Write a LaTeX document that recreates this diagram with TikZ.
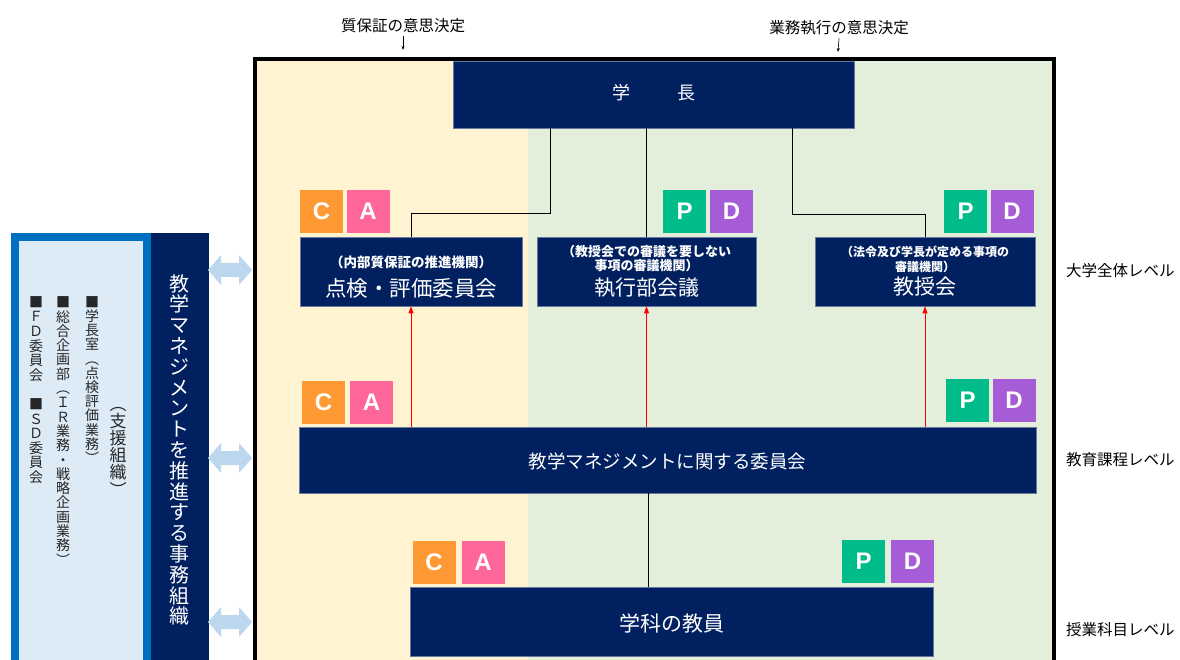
\documentclass[tikz,border=0pt]{standalone}
\usepackage{fontspec}
\setmainfont{Noto Sans CJK JP}
\newfontfamily\latinfont{Liberation Sans}
\usetikzlibrary{arrows.meta}
\definecolor{navy}{HTML}{002060}
\definecolor{corange}{HTML}{FF9933}
\definecolor{apink}{HTML}{FF6699}
\definecolor{pgreen}{HTML}{00BC8A}
\definecolor{dpurple}{HTML}{A65CD6}
\definecolor{bgyellow}{HTML}{FFF3D1}
\definecolor{bggreen}{HTML}{E3EFDB}
\definecolor{sideblue}{HTML}{0070C0}
\definecolor{sidelight}{HTML}{DDEBF7}
\definecolor{arrowblue}{HTML}{BDD7EE}
\newcommand\fsz[2]{\fontsize{#1}{#2}\selectfont}
\begin{document}
\begin{tikzpicture}[x=1pt,y=-1pt,
  navybox/.style={fill=navy, draw=navy!60!white, line width=0.6pt, inner sep=0pt},
  badge/.style={minimum width=43pt, minimum height=43pt, inner sep=0pt, text=white,
    font={\latinfont\bfseries\fsz{24}{24}}},
  whitetxt/.style={text=white, inner sep=0pt},
  blacktxt/.style={text=black, inner sep=0pt},
  vtxt/.style={inner sep=0pt, align=center},
  conn/.style={black, line width=0.8pt},
  redarrow/.style={red, line width=0.9pt, -{Triangle[length=7pt,width=5pt]}},
  downarrow/.style={black, line width=0.6pt, -{Stealth[length=4pt,width=3pt]}},
  dbl/.pic={\fill[arrowblue] (-22,0) -- (-9,-15) -- (-9,-7) -- (9,-7) -- (9,-15) -- (22,0)
     -- (9,15) -- (9,7) -- (-9,7) -- (-9,15) -- cycle;}
]
\useasboundingbox (0,0) rectangle (1180,660);
\fill[white] (0,0) rectangle (1180,660);

% background regions
\fill[bgyellow] (257,61) rectangle (528,660);
\fill[bggreen] (528,61) rectangle (1052,660);
\draw[black, line width=4pt] (255,670) -- (255,59) -- (1054,59) -- (1054,670);

% top labels
\node[blacktxt, font=\fsz{15.5}{15.5}] (lq) at (403,26) {質保証の意思決定};
\node[blacktxt, font=\fsz{15.5}{15.5}] (lb) at (839,28) {業務執行の意思決定};
\coordinate (lqa) at (403,50);
\coordinate (lba) at (838,52);
\draw[downarrow] (lq.south) ++(0,3) -- (lqa);
\draw[downarrow] (lb.south) ++(0,3) -- (lba);

% boxes
\node[navybox, minimum width=401pt, minimum height=67pt] (gakucho) at (653.5,94.5) {};
\node[whitetxt, font=\fsz{18}{18}] (tgakucho) at (653.5,93) {学\hspace{47pt}長};

\node[navybox, minimum width=222pt, minimum height=69pt] (tenken) at (411,271.5) {};
\node[whitetxt, font=\bfseries\fsz{13.5}{13.5}] (tenkens) at (411,262) {（内部質保証の推進機関）};
\node[whitetxt, font=\fsz{21.5}{21.5}] (tenkenm) at (411,288) {点検・評価委員会};

\node[navybox, minimum width=219pt, minimum height=69pt] (shikko) at (646.5,271.5) {};
\node[whitetxt, font=\bfseries\fsz{13}{14}, align=center] (shikkos) at (646.5,259) {（教授会での審議を要しない\\事項の審議機関）};
\node[whitetxt, font=\fsz{21}{21}] (shikkom) at (646.5,288) {執行部会議};

\node[navybox, minimum width=220pt, minimum height=69pt] (kyoju) at (925,271.5) {};
\node[whitetxt, font=\bfseries\fsz{12}{14.5}, align=center] (kyojus) at (925,259.5) {（法令及び学長が定める事項の\\審議機関）};
\node[whitetxt, font=\fsz{21}{21}] (kyojum) at (925,287) {教授会};

\node[navybox, minimum width=737pt, minimum height=66pt] (iinkai) at (667.5,460) {};
\node[whitetxt, font=\fsz{18.5}{18.5}] (iinkait) at (667.5,461) {教学マネジメントに関する委員会};

\node[navybox, minimum width=523pt, minimum height=69pt] (kyoin) at (671.5,621.5) {};
\node[whitetxt, font=\fsz{21}{21}] (kyoint) at (672,623) {学科の教員};

% badges
\node[badge, fill=corange] (c1) at (321.5,211.5) {C};
\node[badge, fill=apink] (a1) at (368,211.5) {A};
\node[badge, fill=pgreen] (p1) at (684.5,211.5) {P};
\node[badge, fill=dpurple] (d1) at (731.5,211.5) {D};
\node[badge, fill=pgreen] (p2) at (965.5,211.5) {P};
\node[badge, fill=dpurple] (d2) at (1012,211.5) {D};

\node[badge, fill=corange] (c2) at (323.5,402.5) {C};
\node[badge, fill=apink] (a2) at (371.5,402.5) {A};
\node[badge, fill=pgreen] (p3) at (967.5,400) {P};
\node[badge, fill=dpurple] (d3) at (1014,400) {D};

\node[badge, fill=corange] (c3) at (434,562.5) {C};
\node[badge, fill=apink] (a3) at (483,562.5) {A};
\node[badge, fill=pgreen] (p4) at (863.5,561.5) {P};
\node[badge, fill=dpurple] (d4) at (912.5,561.5) {D};

% connectors from president
\coordinate (g1) at (550,128);
\coordinate (g1b) at (550,213);
\coordinate (g2) at (646.5,128);
\coordinate (g3) at (792,128);
\coordinate (g3b) at (792,214);
\draw[conn] (g1) -- (g1b) -| (tenken.north);
\draw[conn] (g2) -- (shikko.north);
\draw[conn] (g3) -- (g3b) -| (kyoju.north);

% red arrows
\draw[redarrow] (tenken.south |- iinkai.north) -- (tenken.south);
\draw[redarrow] (shikko.south |- iinkai.north) -- (shikko.south);
\draw[redarrow] (kyoju.south |- iinkai.north) -- (kyoju.south);

% line to faculty
\coordinate (k1) at (648,493);
\draw[conn] (k1) -- (k1 |- kyoin.north);

% right labels
\node[blacktxt, anchor=west, font=\fsz{15.5}{15.5}] (lv1) at (1066,271) {大学全体レベル};
\node[blacktxt, anchor=west, font=\fsz{15.5}{15.5}] (lv2) at (1066,460) {教育課程レベル};
\node[blacktxt, anchor=west, font=\fsz{15.5}{15.5}] (lv3) at (1066,630) {授業科目レベル};

% left support panel
\fill[sideblue] (11,233) rectangle (151,660);
\fill[sidelight] (19,241) rectangle (143,660);
\fill[navy] (151,233) rectangle (209,660);

\node[vtxt, text=white, font=\fsz{20}{20.8}] (jimu) at (179,450)
  {教\\学\\マ\\ネ\\ジ\\メ\\ン\\ト\\を\\推\\進\\す\\る\\事\\務\\組\\織};
\node[vtxt, text=black!85, font=\fsz{17}{17.2}] (shien) at (118,451.5)
  {︵\\支\\援\\組\\織\\︶};
\node[vtxt, text=black!85, font=\fsz{14}{14.2}] (gshitsu) at (92,380)
  {■\\学\\長\\室\\︵\\点\\検\\評\\価\\業\\務\\︶};
\node[vtxt, text=black!85, font=\fsz{14}{14.3}] (sogo) at (63,431)
  {■\\総\\合\\企\\画\\部\\︵\\Ｉ\\Ｒ\\業\\務\\・\\戦\\略\\企\\画\\業\\務\\︶};
\node[vtxt, text=black!85, font=\fsz{14}{14.6}] (fdsd) at (36,390)
  {■\\Ｆ\\Ｄ\\委\\員\\会\\\mbox{}\\■\\Ｓ\\Ｄ\\委\\員\\会};

% double arrows
\pic at (230,270) {dbl};
\pic at (230,458) {dbl};
\pic at (230,622) {dbl};
\end{tikzpicture}
\end{document}
